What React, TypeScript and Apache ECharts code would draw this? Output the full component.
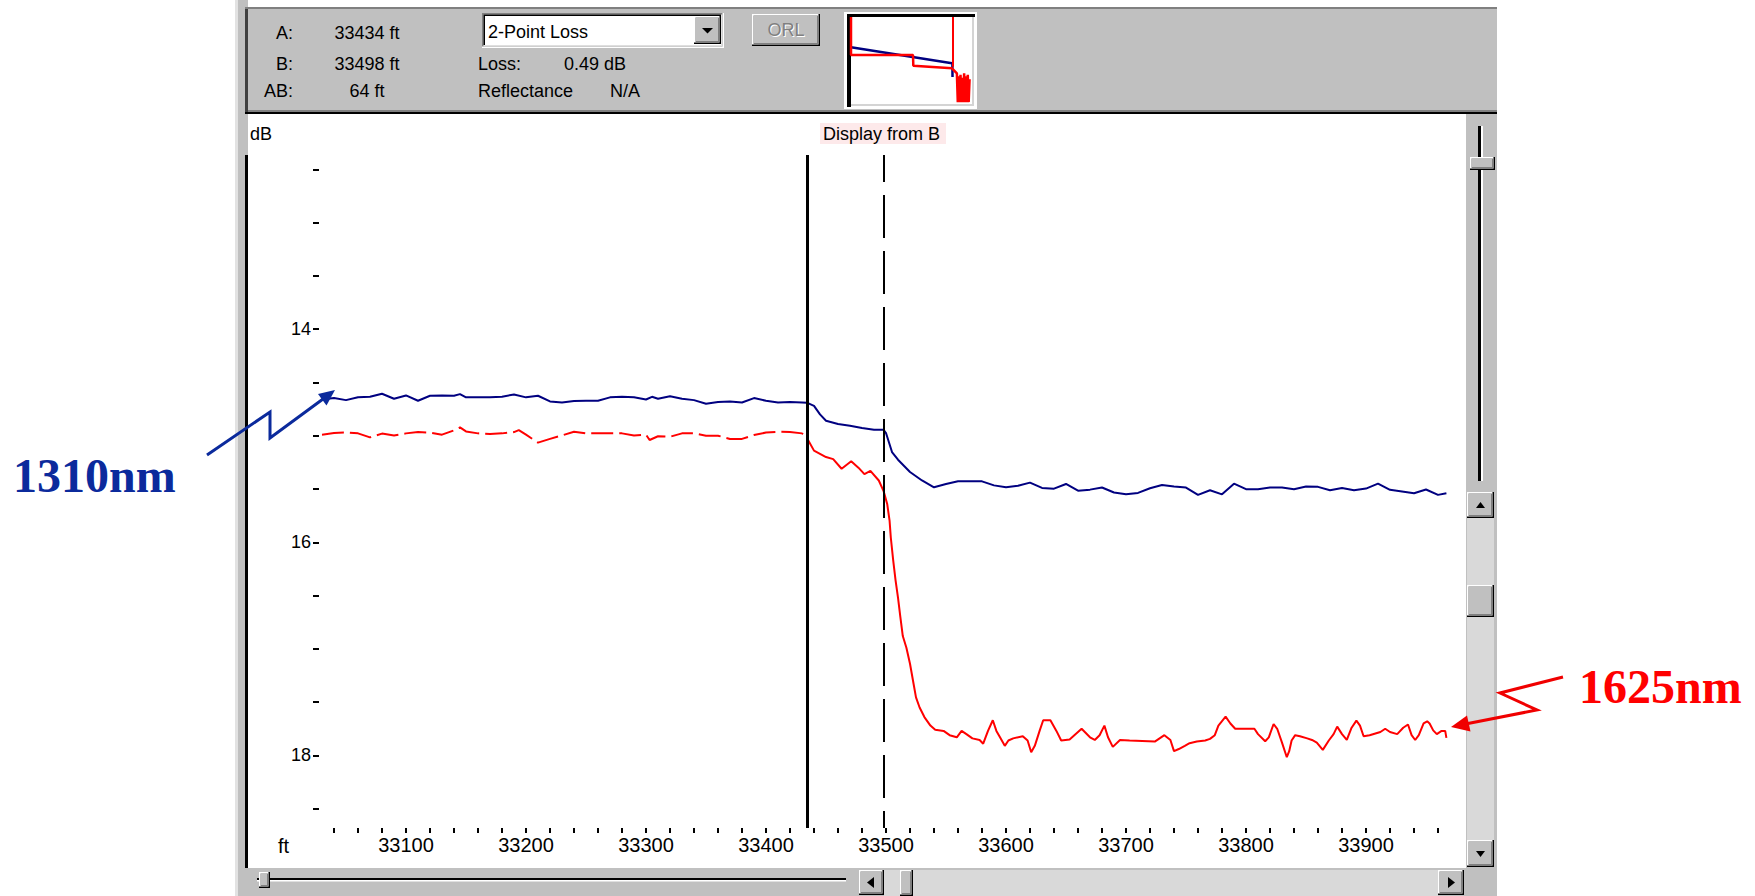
import React, { useEffect, useRef } from "react";
import * as echarts from "echarts";

// ---------------- data ----------------
const cursorA = 33434; // ft
const cursorB = 33498; // ft
const lossAB = 0.49; // dB

const distanceLabels = [33100, 33200, 33300, 33400, 33500, 33600, 33700, 33800, 33900];
const dbLabels = [14, 16, 18];

// 1310 nm trace
const blueDist = [
  33030, 33040, 33050, 33060, 33070, 33080, 33090, 33100, 33110, 33120, 33130, 33140, 33145, 33150,
  33160, 33170, 33180, 33190, 33200, 33210, 33220, 33230, 33240, 33250, 33260, 33270, 33280, 33290,
  33300, 33305, 33310, 33320, 33330, 33340, 33350, 33360, 33370, 33380, 33390, 33400, 33410, 33420,
  33430, 33434, 33440, 33445, 33450, 33460, 33470, 33480, 33490, 33498, 33500, 33505, 33510, 33520,
  33530, 33540, 33550, 33560, 33570, 33580, 33590, 33600, 33610, 33620, 33630, 33640, 33650, 33660,
  33670, 33680, 33690, 33700, 33710, 33720, 33730, 33740, 33750, 33760, 33770, 33780, 33790, 33800,
  33810, 33820, 33830, 33840, 33850, 33860, 33870, 33880, 33890, 33900, 33910, 33920, 33930, 33940,
  33950, 33960, 33967,
];
const blueDb = [
  14.66, 14.647, 14.666, 14.64, 14.634, 14.606, 14.653, 14.622, 14.672, 14.625, 14.622, 14.625, 14.61, 14.64,
  14.64, 14.64, 14.634, 14.613, 14.64, 14.625, 14.678, 14.688, 14.675, 14.672, 14.672, 14.64, 14.634, 14.64,
  14.66, 14.635, 14.653, 14.63, 14.653, 14.666, 14.7, 14.684, 14.678, 14.688, 14.647, 14.672, 14.688, 14.684,
  14.688, 14.69, 14.72, 14.8, 14.86, 14.89, 14.906, 14.928, 14.944, 14.944, 14.975, 15.153, 15.225, 15.34,
  15.42, 15.484, 15.453, 15.428, 15.428, 15.428, 15.466, 15.484, 15.47, 15.44, 15.49, 15.497, 15.453, 15.516,
  15.506, 15.486, 15.533, 15.549, 15.537, 15.493, 15.462, 15.477, 15.487, 15.555, 15.512, 15.55, 15.45, 15.502,
  15.502, 15.487, 15.487, 15.502, 15.477, 15.48, 15.512, 15.49, 15.512, 15.496, 15.45, 15.508, 15.524, 15.54,
  15.505, 15.555, 15.54,
];

// 1625 nm trace
const redDist = [
  33030, 33040, 33050, 33060, 33070, 33080, 33090, 33100, 33110, 33120, 33130, 33140, 33145, 33150,
  33160, 33170, 33180, 33190, 33194, 33200, 33210, 33220, 33230, 33240, 33250, 33260, 33270, 33280,
  33290, 33300, 33303, 33310, 33320, 33330, 33340, 33350, 33360, 33370, 33380, 33390, 33400, 33410,
  33420, 33430, 33434, 33440, 33450, 33456, 33463, 33471, 33477, 33482, 33487, 33494, 33498, 33501,
  33503, 33504, 33506, 33508, 33510, 33512, 33514, 33517, 33520, 33523, 33525, 33528, 33532, 33537,
  33541, 33548, 33553, 33559, 33563, 33567, 33572, 33578, 33581, 33585, 33589, 33592, 33595, 33599,
  33602, 33606, 33614, 33618, 33621, 33624, 33628, 33631, 33637, 33642, 33646, 33653, 33663, 33670,
  33674, 33678, 33682, 33685, 33689, 33695, 33703, 33724, 33728, 33732, 33737, 33740, 33744, 33749,
  33753, 33759, 33766, 33770, 33774, 33777, 33783, 33787, 33791, 33807, 33810, 33816, 33819, 33823,
  33826, 33830, 33834, 33836, 33838, 33841, 33845, 33851, 33855, 33859, 33864, 33869, 33873, 33876,
  33880, 33884, 33888, 33892, 33895, 33898, 33903, 33912, 33916, 33920, 33926, 33931, 33935, 33938,
  33941, 33944, 33948, 33951, 33953, 33956, 33959, 33963, 33966, 33967,
];
const redDb = [
  14.99, 14.975, 14.97, 14.978, 15.016, 14.98, 14.997, 14.978, 14.966, 14.97, 14.99, 14.95, 14.922, 14.96,
  14.978, 14.984, 14.978, 14.966, 14.947, 14.99, 15.065, 15.03, 14.997, 14.963, 14.978, 14.978, 14.978, 14.978,
  14.997, 14.99, 15.04, 15.005, 15.01, 14.978, 14.978, 15.0, 15.0, 15.03, 15.03, 14.994, 14.97, 14.963,
  14.966, 14.978, 15.02, 15.14, 15.2, 15.22, 15.31, 15.24, 15.3, 15.36, 15.33, 15.42, 15.52, 15.64,
  15.8, 15.955, 16.17, 16.36, 16.52, 16.705, 16.88, 16.99, 17.14, 17.33, 17.455, 17.55, 17.64, 17.72,
  17.76, 17.77, 17.81, 17.83, 17.77, 17.8, 17.84, 17.855, 17.89, 17.77, 17.67, 17.77, 17.83, 17.91,
  17.86, 17.84, 17.82, 17.86, 17.97, 17.91, 17.77, 17.67, 17.67, 17.77, 17.86, 17.85, 17.75, 17.83,
  17.855, 17.81, 17.72, 17.83, 17.92, 17.855, 17.86, 17.87, 17.84, 17.81, 17.855, 17.96, 17.94, 17.91,
  17.885, 17.87, 17.86, 17.845, 17.81, 17.72, 17.636, 17.7, 17.75, 17.75, 17.8, 17.867, 17.83, 17.705,
  17.75, 17.88, 18.017, 17.96, 17.86, 17.81, 17.82, 17.84, 17.855, 17.88, 17.948, 17.86, 17.8, 17.73,
  17.8, 17.855, 17.74, 17.673, 17.72, 17.82, 17.81, 17.78, 17.75, 17.78, 17.8, 17.74, 17.71, 17.81,
  17.855, 17.81, 17.7, 17.68, 17.7, 17.765, 17.8, 17.77, 17.77, 17.836,
];

// overview thumbnail (whole fiber)
const overviewBlueDist = [0, 33400, 33520, 33560];
const overviewBlueDb = [10.2, 15.6, 16.0, 20.2];
const overviewRedDist = [0, 0, 20500, 20600, 33400, 33500, 35000, 35300, 35600, 35900, 36200, 36500, 36800, 37100, 37400, 37700, 38000, 38300, 38600, 38900, 39200];
const overviewRedDb = [0, 12.8, 12.8, 16.4, 17.3, 17.5, 19, 28.7, 20, 28.7, 19.5, 28.7, 20.5, 28.7, 19, 28.7, 20, 28.7, 19.5, 28.7, 21];

// ---------------- helpers ----------------
const FONT = "'Liberation Sans', Arial, sans-serif";

const zip = (xs: number[], ys: number[]) => xs.map((x, i) => [x, ys[i]]);

function buildGraphics() {
  const G: any[] = [];
  const rect = (x: number, y: number, w: number, h: number, fill: string, z = 1) =>
    G.push({ type: "rect", shape: { x, y, width: w, height: h }, style: { fill }, z, silent: true });
  const text = (x: number, y: number, t: string, opts: any = {}, z = 3) =>
    G.push({
      type: "text",
      x,
      y,
      z,
      silent: true,
      style: { text: t, fill: "#000", fontSize: 18, fontFamily: FONT, align: "left", verticalAlign: "middle", ...opts },
    });
  const tri = (pts: number[][], fill = "#000", z = 3) =>
    G.push({ type: "polygon", shape: { points: pts }, style: { fill }, z, silent: true });
  const raised = (x: number, y: number, w: number, h: number) => {
    rect(x, y, w, h, "#000000", 2);
    rect(x, y, w - 1.5, h - 1.5, "#ffffff", 2);
    rect(x + 1.5, y + 1.5, w - 3, h - 3, "#808080", 2);
    rect(x + 1.5, y + 1.5, w - 4.5, h - 4.5, "#c0c0c0", 2);
  };

  // left window frame
  rect(235, 0, 3, 896, "#e2e2e2");
  rect(238, 0, 10, 896, "#c0c0c0");
  rect(245, 7, 3, 107, "#404040");
  rect(245, 155, 3, 713, "#000000");

  // header panel
  rect(248, 7, 1249, 107, "#c0c0c0");
  rect(245, 7, 1252, 2, "#808080");
  rect(248, 110, 1249, 2, "#808080");
  rect(245, 112, 1252, 2, "#000000");

  text(293, 33, "A:", { align: "right" });
  text(367, 33, `${cursorA} ft`, { align: "center" });
  text(293, 64, "B:", { align: "right" });
  text(367, 64, `${cursorB} ft`, { align: "center" });
  text(293, 91, "AB:", { align: "right" });
  text(367, 91, `${cursorB - cursorA} ft`, { align: "center" });
  text(478, 64, "Loss:");
  text(564, 64, `${lossAB.toFixed(2)} dB`);
  text(478, 91, "Reflectance");
  text(610, 91, "N/A");

  // dropdown
  rect(482, 13, 242, 35, "#ffffff", 2);
  rect(482, 13, 240.5, 33.5, "#808080", 2);
  rect(483.5, 14.5, 239, 32, "#dfdfdf", 2);
  rect(483.5, 14.5, 237.5, 30.5, "#000000", 2);
  rect(485, 16, 236, 29, "#ffffff", 2);
  text(488, 32, "2-Point Loss");
  raised(694, 16, 27, 28);
  tri([[702, 28], [713, 28], [707.5, 33.5]]);

  // ORL button
  raised(752, 14, 68, 32);
  text(787, 31, "ORL", { align: "center", fill: "#ffffff" });
  text(786, 30, "ORL", { align: "center", fill: "#808080" });

  // overview frame
  rect(844, 12, 133, 97, "#ffffff", 1);
  rect(847, 14, 128, 3, "#000000", 1);
  rect(847, 14, 4, 93, "#000000", 1);
  rect(972, 17, 2, 89, "#d4d4d4", 1);
  rect(851, 104, 123, 2, "#d4d4d4", 1);

  // right scrollbar
  rect(1466, 114, 31, 754, "#c0c0c0");
  rect(1478, 126, 3, 355, "#000000");
  rect(1481, 126, 2, 355, "#ffffff");
  raised(1470, 157, 25, 13);
  raised(1467, 492, 27, 26);
  tri([[1476, 508], [1485, 508], [1480.5, 502]]);
  rect(1467, 518, 27, 322, "#d9d9d9");
  raised(1467, 585, 27, 32);
  raised(1467, 840, 27, 27);
  tri([[1476, 851], [1485, 851], [1480.5, 857]]);

  // bottom bar
  rect(248, 868, 1249, 28, "#c0c0c0");
  rect(257, 878, 589, 2, "#000000");
  rect(257, 880, 589, 1.5, "#ffffff");
  raised(259, 872, 11, 16);
  raised(859, 870, 25, 25);
  tri([[867, 882.5], [874, 877], [874, 888]]);
  rect(884, 870, 554, 26, "#d9d9d9");
  raised(900, 870, 13, 26);
  raised(1438, 870, 26, 25);
  tri([[1455, 882.5], [1448, 877], [1448, 888]]);

  // axis captions
  text(250, 134, "dB");
  text(278, 846, "ft", { fontSize: 20 });
  rect(820, 123, 126, 21, "#fde9ea");
  text(823, 133.5, "Display from B");

  // annotations
  G.push({
    type: "polyline",
    z: 100,
    silent: true,
    shape: { points: [[207, 455], [270, 412], [270, 438], [323, 399]] },
    style: { stroke: "#0b2a9c", lineWidth: 3, fill: null },
  });
  tri([[335, 390], [318, 394], [326.5, 405.5]], "#0b2a9c", 100);
  G.push({
    type: "polyline",
    z: 100,
    silent: true,
    shape: { points: [[1563, 677], [1500, 693], [1537, 710], [1468, 723.5]] },
    style: { stroke: "#f00000", lineWidth: 3, fill: null },
  });
  tri([[1451, 727], [1467, 715.5], [1470.5, 731.5]], "#f00000", 100);
  text(13, 475, "1310nm", { fontSize: 48, fontWeight: "bold", fontFamily: "'Liberation Serif', 'Times New Roman', serif", fill: "#0b2a9c" }, 100);
  text(1579, 686, "1625nm", { fontSize: 48, fontWeight: "bold", fontFamily: "'Liberation Serif', 'Times New Roman', serif", fill: "#ff0000" }, 100);

  return G;
}

export default function App() {
  const ref = useRef<HTMLDivElement>(null);

  useEffect(() => {
    if (!ref.current) return;
    const chart = echarts.init(ref.current, undefined, { renderer: "svg" });

    const xTicks: number[] = [];
    for (let v = 33040; v <= 33960; v += 20) xTicks.push(v);
    const yTicks: number[] = [];
    for (let v = 12.5; v <= 18.5; v += 0.5) yTicks.push(v);

    const markerTop = 12.366;
    const markerBottom = 18.681;

    const splitIdx = redDist.indexOf(cursorA);
    const red = zip(redDist, redDb);

    const option: any = {
      animation: false,
      backgroundColor: "#ffffff",
      grid: [
        { left: 286, top: 116, width: 1200, height: 746, show: false },
        { left: 851, top: 17, width: 121, height: 89, show: false },
      ],
      xAxis: [
        {
          gridIndex: 0,
          type: "value",
          min: 33000,
          max: 34000,
          interval: 20,
          offset: -34,
          axisLine: { show: false },
          axisTick: { show: true, length: 5, customValues: xTicks, lineStyle: { color: "#000", width: 2 } },
          axisLabel: {
            show: true,
            customValues: distanceLabels,
            margin: 7,
            fontSize: 20,
            fontFamily: FONT,
            color: "#000",
            formatter: (v: number) => String(v),
          },
          splitLine: { show: false },
        },
        { gridIndex: 1, type: "value", min: 0, max: 40000, show: false },
      ],
      yAxis: [
        {
          gridIndex: 0,
          type: "value",
          inverse: true,
          min: 12,
          max: 19,
          interval: 0.5,
          offset: -33,
          axisLine: { show: false },
          axisTick: { show: true, length: 6, customValues: yTicks, lineStyle: { color: "#000", width: 2 } },
          axisLabel: {
            show: true,
            customValues: dbLabels,
            margin: 8,
            fontSize: 18,
            fontFamily: FONT,
            color: "#000",
            formatter: (v: number) => String(v),
          },
          splitLine: { show: false },
        },
        { gridIndex: 1, type: "value", inverse: true, min: 0, max: 30, show: false },
      ],
      series: [
        {
          name: "1310nm",
          type: "line",
          xAxisIndex: 0,
          yAxisIndex: 0,
          data: zip(blueDist, blueDb),
          symbol: "none",
          silent: true,
          lineStyle: { color: "#000080", width: 2 },
          emphasis: { disabled: true },
        },
        {
          name: "1625nm",
          type: "line",
          xAxisIndex: 0,
          yAxisIndex: 0,
          data: red.slice(0, splitIdx + 1),
          symbol: "none",
          silent: true,
          lineStyle: { color: "#ff0000", width: 2, type: [22, 6] },
          emphasis: { disabled: true },
        },
        {
          name: "1625nm",
          type: "line",
          xAxisIndex: 0,
          yAxisIndex: 0,
          data: red.slice(splitIdx),
          symbol: "none",
          silent: true,
          lineStyle: { color: "#ff0000", width: 2 },
          emphasis: { disabled: true },
        },
        {
          name: "cursors",
          type: "line",
          xAxisIndex: 0,
          yAxisIndex: 0,
          data: [[cursorA, markerTop]],
          symbol: "none",
          silent: true,
          z: 5,
          lineStyle: { opacity: 0 },
          markLine: {
            silent: true,
            symbol: ["none", "none"],
            label: { show: false },
            emphasis: { disabled: true },
            data: [
              [
                { coord: [cursorA, markerTop], lineStyle: { color: "#000", width: 3, type: "solid" } },
                { coord: [cursorA, markerBottom] },
              ],
              [
                { coord: [cursorB, markerTop], lineStyle: { color: "#000", width: 2, type: [43, 13], dashOffset: 16 } },
                { coord: [cursorB, markerBottom] },
              ],
            ],
          },
        },
        {
          name: "overview 1310nm",
          type: "line",
          xAxisIndex: 1,
          yAxisIndex: 1,
          data: zip(overviewBlueDist, overviewBlueDb),
          symbol: "none",
          silent: true,
          lineStyle: { color: "#000080", width: 2.5 },
        },
        {
          name: "overview 1625nm",
          type: "line",
          xAxisIndex: 1,
          yAxisIndex: 1,
          data: zip(overviewRedDist, overviewRedDb),
          symbol: "none",
          silent: true,
          lineStyle: { color: "#ff0000", width: 2.5 },
          markLine: {
            silent: true,
            symbol: ["none", "none"],
            label: { show: false },
            lineStyle: { color: "#ff0000", width: 2, type: "solid" },
            data: [[{ coord: [33500, 0] }, { coord: [33500, 16.8] }]],
          },
        },
      ],
      graphic: buildGraphics(),
    };

    chart.setOption(option);
    return () => chart.dispose();
  }, []);

  return (
    <div
      ref={ref}
      style={{ position: "fixed", left: 0, top: 0, width: 1755, height: 896, background: "#ffffff" }}
    />
  );
}
